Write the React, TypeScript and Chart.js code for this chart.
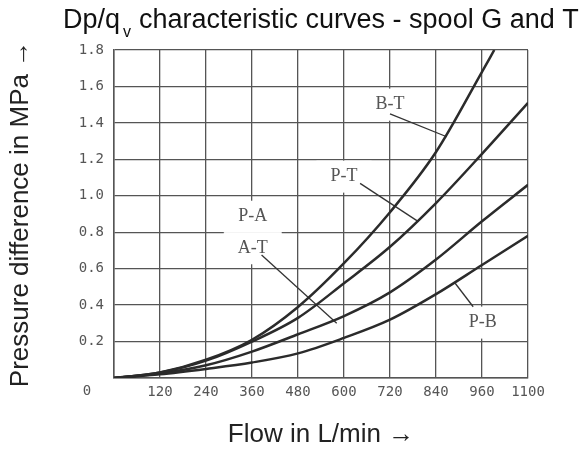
import React, { useEffect, useRef } from 'react';
import { Chart, registerables } from 'chart.js';

Chart.register(...registerables);

// Axis tick labels
const flowLabels = ['0', '120', '240', '360', '480', '600', '720', '840', '960', '1100'];
const pressureLabels = ['0', '0.2', '0.4', '0.6', '0.8', '1.0', '1.2', '1.4', '1.6', '1.8'];

// Flow positions (axis units, one per grid line)
const flow = [0, 120, 240, 360, 480, 600, 720, 840, 960, 1080];
const btFlow = [0, 120, 240, 360, 480, 600, 720, 840, 960, 992];

// Pressure difference values (MPa)
const btPressure = [0, 0.03, 0.1, 0.21, 0.39, 0.63, 0.91, 1.24, 1.68, 1.8];
const ptPressure = [0, 0.03, 0.095, 0.2, 0.33, 0.52, 0.72, 0.96, 1.23, 1.51];
const paPressure = [0, 0.025, 0.07, 0.145, 0.24, 0.34, 0.47, 0.65, 0.86, 1.06];
const pbPressure = [0, 0.02, 0.05, 0.085, 0.135, 0.22, 0.32, 0.46, 0.62, 0.78];

// Curve name labels (in data coordinates)
const curveNames = ['B-T', 'P-T', 'P-A', 'A-T', 'P-B'];
const nameFlow = [720, 600, 362, 362, 962];
const namePressure = [1.5, 1.105, 0.885, 0.712, 0.304];

// Leader lines from labels to curves (data coordinates)
const leaderStartFlow = [720, 642, 385, 937];
const leaderStartPressure = [1.45, 1.068, 0.675, 0.391];
const leaderEndFlow = [868, 794, 581, 890];
const leaderEndPressure = [1.324, 0.858, 0.3, 0.52];

const titleMain = 'Dp/q';
const titleSub = 'v';
const titleRest = 'characteristic curves - spool G and T';

const toPoints = (xs: number[], ys: number[]) => ys.map((v, i) => ({ x: xs[i], y: v }));

const annotatePlugin = {
  id: 'annotate',
  beforeDatasetsDraw(chart: any) {
    const { ctx, scales } = chart;
    const x = scales.x;
    const y = scales.y;
    ctx.save();
    ctx.font = '18px "Liberation Serif"';
    // white masks behind labels
    curveNames.forEach((name, i) => {
      const px = x.getPixelForValue(nameFlow[i]);
      const py = y.getPixelForValue(namePressure[i]);
      const w = ctx.measureText(name).width;
      ctx.fillStyle = '#ffffff';
      ctx.fillRect(px - w / 2 - 14, py - 16, w + 28, 32);
    });
    // leaders
    ctx.strokeStyle = '#333333';
    ctx.lineWidth = 1.3;
    leaderStartFlow.forEach((f, i) => {
      ctx.beginPath();
      ctx.moveTo(x.getPixelForValue(f), y.getPixelForValue(leaderStartPressure[i]));
      ctx.lineTo(x.getPixelForValue(leaderEndFlow[i]), y.getPixelForValue(leaderEndPressure[i]));
      ctx.stroke();
    });
    // label text
    ctx.fillStyle = '#555555';
    ctx.textAlign = 'center';
    ctx.textBaseline = 'middle';
    curveNames.forEach((name, i) => {
      ctx.fillText(name, x.getPixelForValue(nameFlow[i]), y.getPixelForValue(namePressure[i]));
    });
    // origin label
    ctx.font = '14px "DejaVu Sans Mono"';
    ctx.fillText(flowLabels[0], x.getPixelForValue(0) - 27, y.getPixelForValue(0) + 13);
    ctx.restore();
  },
  afterDraw(chart: any) {
    const { ctx } = chart;
    ctx.save();
    ctx.fillStyle = '#111111';
    ctx.textBaseline = 'alphabetic';
    ctx.textAlign = 'left';
    ctx.font = '27px "Liberation Sans"';
    let cx = 63;
    const base = 28;
    ctx.fillText(titleMain, cx, base);
    cx += ctx.measureText(titleMain).width + 3;
    ctx.font = '16px "Liberation Sans"';
    ctx.fillText(titleSub, cx, base + 9);
    cx += ctx.measureText(titleSub).width + 8;
    ctx.font = '27px "Liberation Sans"';
    ctx.fillText(titleRest, cx, base);
    ctx.restore();
  },
};

export default function App() {
  const ref = useRef<HTMLCanvasElement>(null);
  useEffect(() => {
    if (!ref.current) return;
    const lineStyle = {
      borderColor: '#2b2b2b',
      borderWidth: 2.5,
      pointRadius: 0,
      cubicInterpolationMode: 'monotone' as const,
      fill: false,
    };
    const chart = new Chart(ref.current, {
      type: 'line',
      data: {
        datasets: [
          { label: 'B-T', data: toPoints(btFlow, btPressure), ...lineStyle },
          { label: 'P-T', data: toPoints(flow, ptPressure), ...lineStyle },
          { label: 'P-A / A-T', data: toPoints(flow, paPressure), ...lineStyle },
          { label: 'P-B', data: toPoints(flow, pbPressure), ...lineStyle },
        ],
      },
      options: {
        animation: false,
        responsive: false,
        devicePixelRatio: 1,
        layout: { padding: { top: 50, right: 59, bottom: 0, left: 0 } },
        plugins: {
          legend: { display: false },
          tooltip: { enabled: false },
          title: { display: false },
        },
        scales: {
          x: {
            type: 'linear',
            min: 0,
            max: 1080,
            ticks: {
              stepSize: 120,
              autoSkip: false,
              maxRotation: 0,
              padding: 6,
              color: '#555555',
              font: { family: 'DejaVu Sans Mono', size: 14 },
              callback: (_v: any, i: number) => (i === 0 ? '' : flowLabels[i]),
            },
            grid: { color: '#555555', lineWidth: 1.3, drawTicks: false },
            border: { color: '#555555', width: 1.5 },
            title: {
              display: true,
              text: 'Flow in L/min →',
              color: '#222222',
              font: { family: 'Liberation Sans', size: 26 },
              padding: { top: 5, bottom: 4 },
            },
            afterFit: (s: any) => {
              s.height = 76;
            },
          },
          y: {
            type: 'linear',
            min: 0,
            max: 1.8,
            ticks: {
              stepSize: 0.2,
              autoSkip: false,
              padding: 10,
              color: '#555555',
              font: { family: 'DejaVu Sans Mono', size: 14 },
              callback: (_v: any, i: number) => (i === 0 ? '' : pressureLabels[i]),
            },
            grid: { color: '#555555', lineWidth: 1.3, drawTicks: false },
            border: { color: '#555555', width: 1.5 },
            title: {
              display: true,
              text: 'Pressure difference in MPa →',
              color: '#222222',
              font: { family: 'Liberation Sans', size: 26 },
              padding: { top: 5, bottom: 0 },
            },
            afterFit: (s: any) => {
              s.width = 114;
            },
          },
        },
      },
      plugins: [annotatePlugin],
    });
    return () => chart.destroy();
  }, []);
  return (
    <div style={{ position: 'fixed', left: 0, top: 0, width: 587, height: 454, background: '#fff' }}>
      <canvas ref={ref} width={587} height={454} />
    </div>
  );
}
